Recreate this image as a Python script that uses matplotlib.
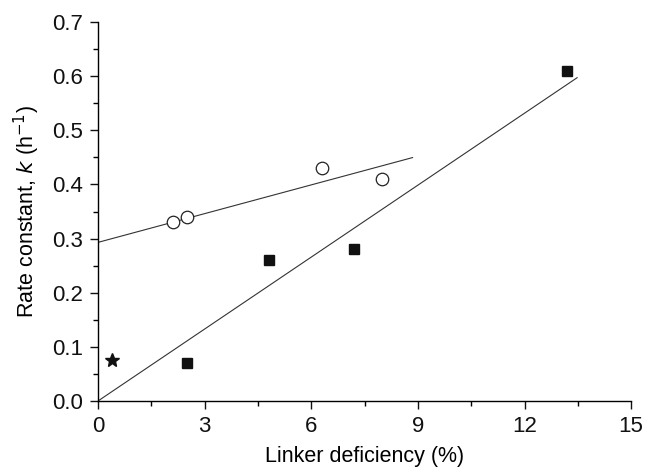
import matplotlib
matplotlib.use("Agg")
import matplotlib.pyplot as plt
import numpy as np
from matplotlib.ticker import MultipleLocator

plt.rcParams['font.family'] = ['Liberation Sans', 'DejaVu Sans']

sq_x = [2.5, 4.8, 7.2, 13.2]
sq_y = [0.07, 0.26, 0.28, 0.61]
ci_x = [2.1, 2.5, 6.3, 8.0]
ci_y = [0.33, 0.34, 0.43, 0.41]
star_x = [0.4]
star_y = [0.075]
fit_sq_x = [0.0, 13.48]
fit_sq_slope = 0.0443
fit_sq_icpt = 0.0
fit_ci_x = [0.0, 8.85]
fit_ci_slope = 0.0177
fit_ci_icpt = 0.293

fig = plt.figure(figsize=(6.46, 4.69), dpi=100)
ax = fig.add_axes([0.1517, 0.145, 0.8253, 0.808])

fx = np.array(fit_sq_x)
ax.plot(fx, fit_sq_icpt + fit_sq_slope * fx, color='#333333', lw=0.8, zorder=2)
fx = np.array(fit_ci_x)
ax.plot(fx, fit_ci_icpt + fit_ci_slope * fx, color='#333333', lw=0.8, zorder=2)

ax.plot(sq_x, sq_y, 's', color='#111111', ms=7.5, ls='none', zorder=3)
ax.plot(ci_x, ci_y, 'o', mfc='white', mec='#222222', mew=0.9, ms=9, ls='none', zorder=3)
ax.plot(star_x, star_y, '*', color='#111111', ms=10, ls='none', zorder=3)

ax.set_xlim(0, 15)
ax.set_ylim(0, 0.7)
ax.xaxis.set_major_locator(MultipleLocator(3))
ax.xaxis.set_minor_locator(MultipleLocator(1.5))
ax.yaxis.set_major_locator(MultipleLocator(0.1))
ax.yaxis.set_minor_locator(MultipleLocator(0.05))
ax.yaxis.set_major_formatter(matplotlib.ticker.FormatStrFormatter('%.1f'))

for s in ['top', 'right']:
    ax.spines[s].set_visible(False)
for s in ['left', 'bottom']:
    ax.spines[s].set_linewidth(1.0)
ax.tick_params(which='major', direction='out', length=6, width=1.0, labelsize=16, colors='#111111', pad=5)
ax.tick_params(which='minor', direction='out', length=3.5, width=1.0)

ax.set_xlabel('Linker deficiency (%)', fontsize=15.5, labelpad=6)
ax.set_ylabel('Rate constant, $\\it{k}$ (h$^{-1}$)', fontsize=15.5, labelpad=7)

fig.savefig('out.png', dpi=100)
